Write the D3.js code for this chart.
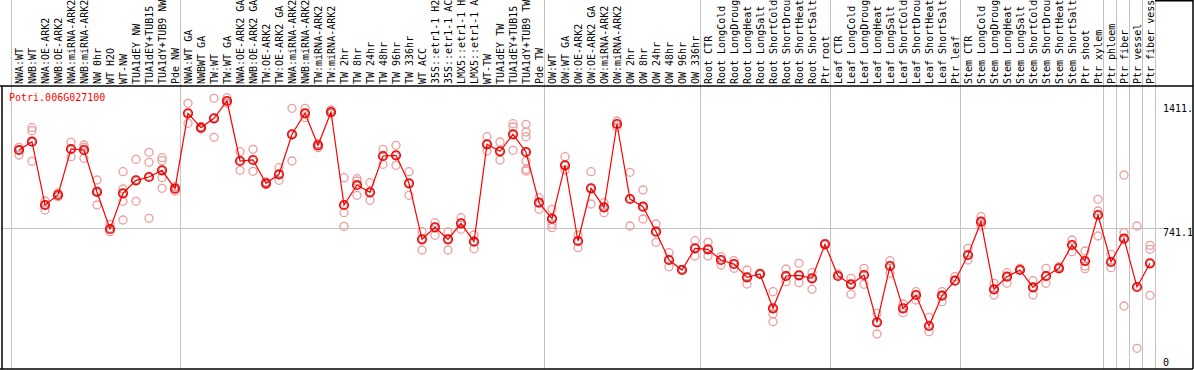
<!DOCTYPE html>
<html>
<head>
<meta charset="utf-8">
<script src="https://cdn.jsdelivr.net/npm/d3@7"></script>
<style>
  body { margin: 0; background: #fff; }
  svg { display: block; font-family: "DejaVu Sans Mono", "Liberation Mono", monospace; }
</style>
</head>
<body>
<div id="chart"></div>
<script>
// sample names along the top
const samples = [
    "NWA:WT", "NWB:WT", "NWA:OE-ARK2", "NWB:OE-ARK2", "NWA:miRNA-ARK2", "NWB:miRNA-ARK2",
    "NW 0hr", "WT H2O", "WT-NW", "TUA1dEY NW", "TUA1dEY+TUB15", "TUA1dY+TUB9 NW", "Pde NW",
    "NWA:WT GA", "NWBWT GA", "TW:WT", "TW:WT GA", "NWA:OE-ARK2 GA", "NWB:OE-ARK2 GA",
    "TW:OE-ARK2", "TW:OE-ARK2 GA", "NWA:miRNA-ARK2 GA", "NWB:miRNA-ARK2 GA", "TW:miRNA-ARK2",
    "TW:miRNA-ARK2 GA", "TW 2hr", "TW 8hr", "TW 24hr", "TW 48hr", "TW 96hr", "TW 336hr",
    "WT ACC", "35S::etr1-1 H2O", "35S::etr1-1 ACC", "LMX5::etr1-1 H2O", "LMX5::etr1-1 ACC",
    "WT-TW", "TUA1dEY TW", "TUA1dEY+TUB15", "TUA1dY+TUB9 TW", "Pde TW",
    "OW:WT", "OW:WT GA", "OW:OE-ARK2", "OW:OE-ARK2 GA", "OW:miRNA-ARK2", "OW:miRNA-ARK2 GA",
    "OW 2hr", "OW 8hr", "OW 24hr", "OW 48hr", "OW 96hr", "OW 336hr",
    "Root CTR", "Root LongCold", "Root LongDrought", "Root LongHeat", "Root LongSalt",
    "Root ShortCold", "Root ShortDrought", "Root ShortHeat", "Root ShortSalt", "Ptr root",
    "Leaf CTR", "Leaf LongCold", "Leaf LongDrought", "Leaf LongHeat", "Leaf LongSalt",
    "Leaf ShortCold", "Leaf ShortDrought", "Leaf ShortHeat", "Leaf ShortSalt", "Ptr leaf",
    "Stem CTR", "Stem LongCold", "Stem LongDrought", "Stem LongHeat", "Stem LongSalt",
    "Stem ShortCold", "Stem ShortDrought", "Stem ShortHeat", "Stem ShortSalt", "Ptr shoot",
    "Ptr xylem", "Ptr phloem", "Ptr fiber", "Ptr vessel", "Ptr fiber vessel"
];

const meanValues = [
    1153.5, 1197.3, 863.8, 916.5, 1158.8, 1153.5, 932.3, 737.4, 925.5, 993.9, 1011.3, 1046.6, 949.7,
    1346.8, 1271.0, 1320.5, 1411.6, 1095.6, 1100.9, 978.1, 1025.5, 1236.2, 1346.8, 1178.3,
    1353.7, 863.8, 969.2, 930.7, 1121.9, 1125.6, 978.1, 683.2, 746.4, 683.2, 767.5, 670.5,
    1183.6, 1146.7, 1236.2, 1143.0, 876.0,
    791.7, 1072.9, 674.2, 951.8, 851.7, 1290.5, 895.4, 854.9, 723.2, 574.1, 521.5, 635.8,
    630.5, 574.1, 553.1, 483.0, 500.4, 319.7, 489.9, 493.5, 477.7, 656.8,
    489.9, 446.1, 495.1, 246.0, 542.5, 319.7, 389.8, 226.5, 386.1, 465.1,
    600.5, 775.9, 419.8, 486.2, 521.5, 430.3, 489.9, 530.4, 653.1, 568.9,
    811.2, 563.6, 686.3, 431.9, 556.8
];

const repValues = [
    [1167.8, 1153.5, 1127.2], [1271.0, 1255.2, 1094.0], [884.9, 863.8, 837.5], [927.0, 907.6],
    [1194.1, 1118.2], [1179.9, 1167.8, 1109.8], [995.5, 937.6, 863.8], [762.2, 723.2],
    [1039.2, 948.1, 883.3, 784.8], [1104.5, 883.3], [1141.4, 1088.7, 793.8],
    [1113.0, 1097.2, 1007.6, 951.8], [960.2, 937.6],
    [1399.5, 1294.2], [1276.3, 1264.2], [1425.9, 1220.4], [1429.0, 1399.5], [1144.6, 1046.6],
    [1157.2, 1041.3], [985.0, 970.8], [1060.3, 993.9], [1373.2, 1095.6], [1373.2, 1323.7],
    [1186.7, 1165.6], [1364.2, 1346.8], [1007.6, 823.3, 751.6], [1002.4, 990.3, 914.9],
    [981.3, 888.6], [1157.2, 1078.2], [1178.3, 1072.9], [1039.2, 914.9], [723.2, 626.8],
    [770.6, 704.2], [721.6, 626.8], [796.9, 735.8], [705.8, 633.7], [1223.6, 1148.3],
    [1195.7, 1100.9], [1292.1, 1274.7, 1151.9], [1288.9, 1248.3, 1223.6, 1095.6, 1051.9, 1042.9],
    [902.3, 841.2],
    [841.2, 762.2, 744.3], [1118.2, 1048.2], [705.8, 638.9], [1039.2, 869.1], [876.0, 823.3],
    [1306.3, 1274.7], [1036.1, 753.2], [942.8, 790.1], [763.8, 667.4], [612.6, 538.8],
    [525.2], [675.8, 595.2],
    [667.4, 595.2], [591.5, 547.8], [570.4, 530.4], [521.5, 447.7], [504.1],
    [407.2, 289.7, 249.1], [526.7, 459.8], [556.8, 454.6], [507.2, 419.8], [662.1],
    [500.4], [477.7, 393.5], [530.4, 446.1], [293.4, 184.4], [570.4, 504.1], [342.4, 296.5],
    [407.2, 363.4], [272.3, 196.5], [407.2, 354.5], [486.2],
    [635.8, 574.1], [802.2, 753.2], [451.4, 389.8], [507.2, 451.4], [530.4], [465.1, 389.8],
    [530.4, 451.4], [538.8], [679.5, 617.9], [621.5, 542.5, 528.3],
    [893.9, 832.2, 700.6], [604.2, 533.6], [1021.9, 717.9, 331.8], [753.2, 109.0],
    [651.6, 630.5, 388.2]
];

// a grey separator is drawn before each of these sample indices
const groupStarts = [0, 13, 41, 53, 63, 73, 84, 85, 86, 87, 88];

const yTicks = [0, 741.1, 1411.6];
const geneName = "Potri.006G027100";

const width = 1194, height = 370;
const headerBottom = 86, plotBottom = 369, plotRight = 1155, frameRight = 1193;

const svg = d3.select("#chart").append("svg")
    .attr("width", width)
    .attr("height", height);

const x = d3.scaleLinear().domain([0, samples.length - 1]).range([19, 1150]);
const y = d3.scaleLinear().domain([0, 1482.2]).range([plotBottom, 87.6]);

const gridColor = "#c3c3c3";

// vertical separators (run through header too)
svg.append("g").selectAll("line")
    .data(groupStarts)
    .enter().append("line")
    .attr("x1", d => Math.round(x(d) - 8.5) + 0.5)
    .attr("x2", d => Math.round(x(d) - 8.5) + 0.5)
    .attr("y1", 0)
    .attr("y2", plotBottom)
    .attr("stroke", gridColor)
    .attr("stroke-width", 1);

// horizontal line at middle tick
svg.append("line")
    .attr("x1", 2).attr("x2", 1163)
    .attr("y1", Math.round(y(yTicks[1])) + 0.5)
    .attr("y2", Math.round(y(yTicks[1])) + 0.5)
    .attr("stroke", gridColor);

// frame lines
const frame = svg.append("g").attr("stroke", "#000").attr("stroke-width", 1.5);
frame.append("line").attr("x1", 0).attr("x2", frameRight).attr("y1", headerBottom).attr("y2", headerBottom);
frame.append("line").attr("x1", 0).attr("x2", frameRight).attr("y1", plotBottom).attr("y2", plotBottom);
frame.append("line").attr("x1", 2).attr("x2", 2).attr("y1", headerBottom).attr("y2", plotBottom);
frame.append("line").attr("x1", frameRight).attr("x2", frameRight).attr("y1", 0).attr("y2", plotBottom);
frame.append("line").attr("x1", plotRight).attr("x2", frameRight).attr("y1", 0.75).attr("y2", 0.75);

// sample labels, rotated (long ones run off the top, as in the original)
svg.append("g").selectAll("text")
    .data(samples)
    .enter().append("text")
    .attr("transform", (d, i) => `translate(${x(i)},84) rotate(-90)`)
    .attr("dy", "0.35em")
    .attr("font-size", "10px")
    .attr("fill", "#000")
    .text(d => d);

// right axis labels
svg.append("clipPath").attr("id", "axisClip")
    .append("rect").attr("x", plotRight).attr("y", headerBottom).attr("width", frameRight - plotRight - 1).attr("height", plotBottom - headerBottom);

const tickOffset = [-7, 4, 7];
svg.append("g").attr("clip-path", "url(#axisClip)")
    .selectAll("text")
    .data(yTicks)
    .enter().append("text")
    .attr("x", 1163)
    .attr("y", (d, i) => y(d) + tickOffset[i])
    .attr("dy", "0.35em")
    .attr("font-size", "10px")
    .attr("fill", "#000")
    .text(d => d === 0 ? "0" : d3.format(".1f")(d));

// gene title
svg.append("text")
    .attr("x", 9)
    .attr("y", 97)
    .attr("dy", "0.35em")
    .attr("font-size", "10px")
    .attr("fill", "#ff0000")
    .text(geneName);

// replicate circles
const reps = [];
repValues.forEach((vals, i) => vals.forEach(v => reps.push({i, v})));

svg.append("g").selectAll("circle")
    .data(reps)
    .enter().append("circle")
    .attr("cx", d => x(d.i))
    .attr("cy", d => y(d.v))
    .attr("r", 4)
    .attr("fill", "none")
    .attr("stroke", "#ee9c9c")
    .attr("stroke-width", 1.3);

// mean line
const line = d3.line()
    .x((d, i) => x(i))
    .y(d => y(d));

svg.append("path")
    .datum(meanValues)
    .attr("d", line)
    .attr("fill", "none")
    .attr("stroke", "#ff0000")
    .attr("stroke-width", 1.2);

const means = svg.append("g").selectAll("g")
    .data(meanValues)
    .enter().append("g")
    .attr("transform", (d, i) => `translate(${x(i)},${y(d)})`);

means.append("circle")
    .attr("r", 4.3)
    .attr("fill", "none")
    .attr("stroke", "#ff0000")
    .attr("stroke-width", 1.6);

means.append("circle")
    .attr("r", 3.2)
    .attr("fill", "none")
    .attr("stroke", "#000")
    .attr("stroke-opacity", 0.55)
    .attr("stroke-width", 0.6);
</script>
</body>
</html>
